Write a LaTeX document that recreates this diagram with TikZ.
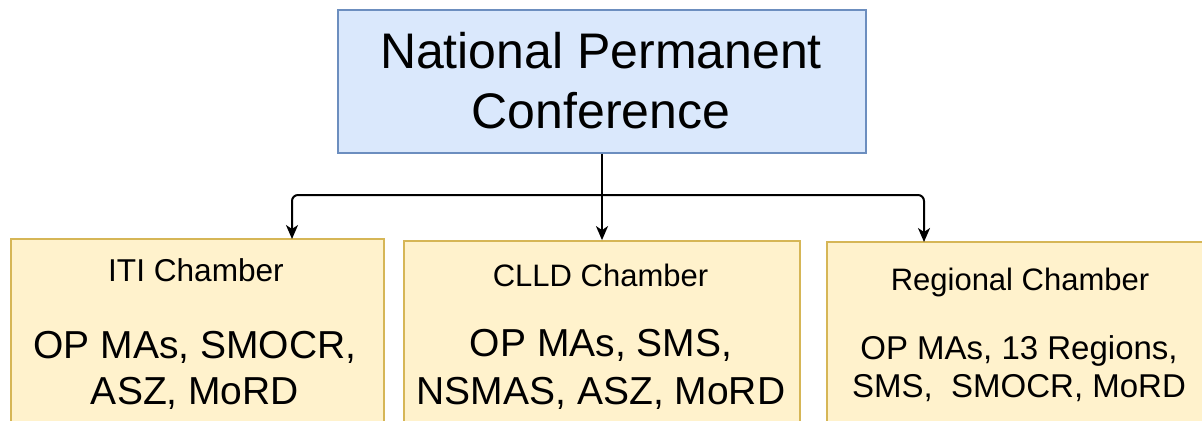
\documentclass[tikz,border=0pt]{standalone}
\usepackage{fontspec}
\setmainfont{Liberation Sans}
\usetikzlibrary{arrows.meta}
\definecolor{blueFill}{HTML}{DAE8FC}
\definecolor{blueLine}{HTML}{6C8EBF}
\definecolor{yelFill}{HTML}{FFF2CC}
\definecolor{yelLine}{HTML}{D6B656}
\tikzset{
  topbox/.style={draw=blueLine, fill=blueFill, line width=0.9pt, rectangle, inner sep=0pt},
  chamberbox/.style={draw=yelLine, fill=yelFill, line width=0.9pt, rectangle, inner sep=0pt},
  lbl/.style={inner sep=0pt, align=center, text=black},
  conn/.style={draw=black, line width=1pt, rounded corners=3pt, -{Stealth[length=7pt,width=6pt,inset=2pt]}},
}
\begin{document}
\begin{tikzpicture}[x=0.5pt,y=-0.5pt]
\useasboundingbox (0,0) rectangle (1202,420);
\clip (0,0) rectangle (1202,420);
% boxes
\node[topbox, minimum width=264pt, minimum height=71.5pt] (npc) at (602,81.5) {};
\node[chamberbox, minimum width=186.5pt, minimum height=100.5pt] (iti) at (197.5,339.5) {};
\node[chamberbox, minimum width=198pt, minimum height=99.5pt] (clld) at (602,340.5) {};
\node[chamberbox, minimum width=196.5pt, minimum height=99pt] (reg) at (1023.5,341) {};
% texts
\node[lbl, font=\fontsize{25}{30}\selectfont] (npct) at (601,81) {National Permanent\\Conference};
\node[lbl, font=\fontsize{15.8}{18}\selectfont] (itit) at (196,270) {ITI Chamber};
\node[lbl, font=\fontsize{19.5}{23}\selectfont] (itib) at (195,370) {OP MAs, SMOCR,\\ASZ, MoRD};
\node[lbl, font=\fontsize{15.5}{18}\selectfont] (clldt) at (600.5,275) {CLLD Chamber};
\node[lbl, font=\fontsize{19.5}{24}\selectfont] (clldb) at (601,369) {OP MAs, SMS,\\NSMAS, ASZ, MoRD};
\node[lbl, font=\fontsize{15.5}{18}\selectfont] (regt) at (1020,282) {Regional Chamber};
\node[lbl, font=\fontsize{16.5}{19}\selectfont] (regb) at (1019,369) {OP MAs, 13 Regions,\\SMS,\ \ SMOCR, MoRD};
% connector points
\coordinate (hy) at (npc.south |- 0,195);
\coordinate (itiIn) at (292,239);
\coordinate (clldIn) at (npc.south |- clld.north);
\coordinate (regIn) at (924,242);
\draw[conn] (npc.south) -- (clldIn);
\draw[conn] (hy) -| (itiIn);
\draw[conn] (hy) -| (regIn);
\end{tikzpicture}
\end{document}
